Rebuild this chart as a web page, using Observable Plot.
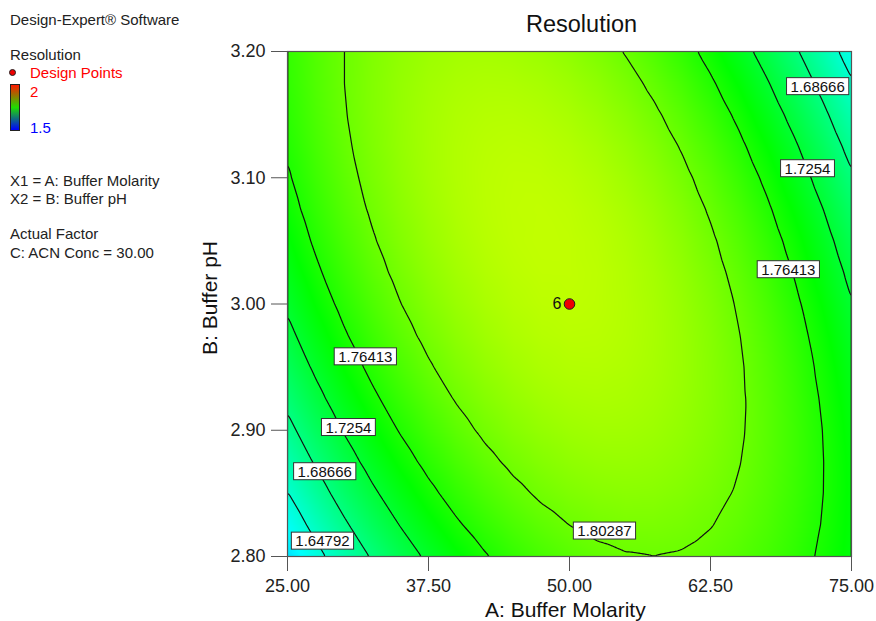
<!DOCTYPE html>
<html>
<head>
<meta charset="utf-8">
<script src="https://cdn.jsdelivr.net/npm/d3@7"></script>
<script src="https://cdn.jsdelivr.net/npm/@observablehq/plot@0.6"></script>
<style>
  body { margin: 0; background: #fff; font-family: "Liberation Sans", Arial, sans-serif; }
  #wrap { position: relative; width: 876px; height: 621px; overflow: hidden; }
  #wrap svg { position: absolute; left: 0; top: 0; }
  .t { position: absolute; white-space: nowrap; font-size: 15px; line-height: 1; color: #222; }
</style>
</head>
<body>
<div id="wrap"></div>
<script>
// ---- data ----
// A: Buffer Molarity (columns)
const molarity = [25, 27.5, 30, 32.5, 35, 37.5, 40, 42.5, 45, 47.5, 50, 52.5, 55, 57.5, 60, 62.5, 65, 67.5, 70, 72.5, 75];
// B: Buffer pH (rows, top to bottom)
const bufferPH = [3.200, 3.175, 3.150, 3.125, 3.100, 3.075, 3.050, 3.025, 3.000, 2.975, 2.950, 2.925, 2.900, 2.875, 2.850, 2.825, 2.800];
// Resolution estimated at each grid node
const resolution = [
  [1.7753,1.7901,1.8027,1.8129,1.8208,1.8265,1.8298,1.8308,1.8295,1.8260,1.8201,1.8119,1.8015,1.7887,1.7736,1.7563,1.7366,1.7146,1.6903,1.6638,1.6349],
  [1.7736,1.7893,1.8027,1.8137,1.8225,1.8290,1.8332,1.8351,1.8347,1.8320,1.8270,1.8197,1.8101,1.7981,1.7839,1.7674,1.7486,1.7275,1.7041,1.6784,1.6504],
  [1.7707,1.7872,1.8015,1.8134,1.8231,1.8304,1.8355,1.8382,1.8387,1.8368,1.8327,1.8262,1.8175,1.8064,1.7931,1.7774,1.7595,1.7392,1.7167,1.6918,1.6647],
  [1.7667,1.7841,1.7992,1.8120,1.8225,1.8307,1.8366,1.8402,1.8416,1.8406,1.8373,1.8317,1.8238,1.8136,1.8011,1.7863,1.7692,1.7498,1.7282,1.7042,1.6779],
  [1.7615,1.7798,1.7957,1.8094,1.8208,1.8299,1.8366,1.8411,1.8433,1.8431,1.8407,1.8360,1.8289,1.8196,1.8080,1.7941,1.7778,1.7593,1.7385,1.7153,1.6899],
  [1.7552,1.7743,1.7912,1.8057,1.8179,1.8278,1.8355,1.8408,1.8438,1.8446,1.8430,1.8391,1.8330,1.8245,1.8137,1.8006,1.7853,1.7676,1.7476,1.7254,1.7008],
  [1.7477,1.7677,1.7854,1.8008,1.8139,1.8247,1.8332,1.8394,1.8433,1.8449,1.8441,1.8411,1.8358,1.8282,1.8183,1.8061,1.7916,1.7748,1.7557,1.7343,1.7105],
  [1.7391,1.7600,1.7785,1.7948,1.8087,1.8204,1.8297,1.8368,1.8415,1.8440,1.8441,1.8420,1.8375,1.8308,1.8217,1.8104,1.7967,1.7808,1.7625,1.7420,1.7191],
  [1.7294,1.7511,1.7705,1.7876,1.8024,1.8150,1.8252,1.8331,1.8387,1.8420,1.8430,1.8417,1.8381,1.8322,1.8240,1.8136,1.8008,1.7857,1.7683,1.7486,1.7266],
  [1.7185,1.7411,1.7614,1.7793,1.7950,1.8084,1.8194,1.8282,1.8347,1.8389,1.8407,1.8403,1.8376,1.8325,1.8252,1.8156,1.8036,1.7894,1.7729,1.7541,1.7329],
  [1.7065,1.7299,1.7511,1.7699,1.7864,1.8006,1.8126,1.8222,1.8295,1.8346,1.8373,1.8377,1.8359,1.8317,1.8252,1.8164,1.8054,1.7920,1.7763,1.7584,1.7381],
  [1.6933,1.7176,1.7396,1.7593,1.7767,1.7918,1.8046,1.8151,1.8232,1.8291,1.8327,1.8340,1.8330,1.8297,1.8241,1.8162,1.8060,1.7935,1.7786,1.7615,1.7421],
  [1.6790,1.7042,1.7270,1.7476,1.7658,1.7818,1.7954,1.8068,1.8158,1.8226,1.8270,1.8292,1.8290,1.8266,1.8218,1.8148,1.8054,1.7938,1.7798,1.7636,1.7450],
  [1.6635,1.6896,1.7133,1.7347,1.7538,1.7706,1.7851,1.7973,1.8072,1.8148,1.8201,1.8232,1.8239,1.8223,1.8184,1.8122,1.8037,1.7929,1.7798,1.7644,1.7467],
  [1.6469,1.6738,1.6984,1.7207,1.7406,1.7583,1.7737,1.7867,1.7975,1.8060,1.8121,1.8160,1.8176,1.8169,1.8138,1.8085,1.8009,1.7909,1.7787,1.7642,1.7473],
  [1.6292,1.6569,1.6824,1.7055,1.7263,1.7448,1.7611,1.7750,1.7866,1.7960,1.8030,1.8077,1.8102,1.8103,1.8081,1.8036,1.7969,1.7878,1.7764,1.7628,1.7468],
  [1.6103,1.6389,1.6652,1.6892,1.7109,1.7303,1.7473,1.7621,1.7746,1.7848,1.7927,1.7983,1.8016,1.8026,1.8013,1.7977,1.7917,1.7835,1.7730,1.7602,1.7451]
];
const contourLevels = [1.64792, 1.68666, 1.7254, 1.76413, 1.80287];
const contourLabelText = ["1.76413", "1.7254", "1.68666", "1.64792", "1.80287", "1.68666", "1.7254", "1.76413"];
const contourLabelA    = [31.9, 30.4, 28.3, 28.1, 53.1, 72.0, 71.1, 69.4];
const contourLabelPH   = [2.958, 2.902, 2.867, 2.812, 2.820, 3.172, 3.107, 3.027];
const designA = [50];
const designPH = [3.00];
const designCount = ["6"];
const xTicks = [25, 37.5, 50, 62.5, 75];
const yTicks = [2.80, 2.90, 3.00, 3.10, 3.20];
const colorStops = [1.5, 1.625, 1.75, 1.875, 2];
const colorRange = ["#0000ff", "#00ffff", "#00ff00", "#ffff00", "#ff0000"];

// ---- tables built from the arrays ----
const grid = [];
bufferPH.forEach((p, i) => molarity.forEach((m, j) => grid.push({A: m, pH: p, R: resolution[i][j]})));
const labels = contourLabelText.map((t, i) => ({t, A: contourLabelA[i], pH: contourLabelPH[i]}));
const design = designA.map((a, i) => ({A: a, pH: designPH[i], n: designCount[i]}));

const font = '"Liberation Sans", Arial, sans-serif';
const bounds = {x1: 25, x2: 75, y1: 2.8, y2: 3.2};

const chart = Plot.plot({
  width: 876, height: 621,
  marginLeft: 287, marginRight: 25, marginTop: 51, marginBottom: 65,
  style: {fontFamily: font, color: "#222", background: "transparent", overflow: "visible"},
  x: {domain: [25, 75]},
  y: {domain: [2.8, 3.2]},
  color: {type: "linear", domain: colorStops, range: colorRange, interpolate: "rgb"},
  marks: [
    Plot.raster(grid, {x: "A", y: "pH", fill: "R", interpolate: "barycentric", pixelSize: 1, ...bounds}),
    Plot.contour(grid, {x: "A", y: "pH", value: "R", thresholds: contourLevels, interpolate: "barycentric",
      pixelSize: 1, blur: 1, ...bounds, fill: "none", stroke: "#111", strokeWidth: 1.2, clip: true}),
    Plot.frame({stroke: "#555", strokeWidth: 1.2}),
    Plot.axisX({ticks: xTicks, tickFormat: d => d.toFixed(2), tickSize: 15, tickPadding: 8,
      fontSize: 18, stroke: "#555", label: null}),
    Plot.axisY({ticks: yTicks, tickFormat: d => d.toFixed(2), tickSize: 16, tickPadding: 6,
      fontSize: 18, stroke: "#555", label: null}),
    Plot.text(labels, {x: "A", y: "pH", text: "t", fontSize: 15, fill: "#111"}),
    Plot.dot(design, {x: "A", y: "pH", r: 5.3, fill: "#ee0000", stroke: "#222", strokeWidth: 1}),
    Plot.text(design, {x: "A", y: "pH", text: "n", dx: -8, textAnchor: "end", fontSize: 16, fill: "#111"})
  ]
});

const wrap = document.getElementById("wrap");
wrap.appendChild(chart);

// white boxes behind contour labels
const textGroups = chart.querySelectorAll('g[aria-label="text"]');
if (textGroups.length) {
  textGroups[0].querySelectorAll("text").forEach(t => {
    const b = t.getBBox();
    const r = document.createElementNS("http://www.w3.org/2000/svg", "rect");
    r.setAttribute("x", b.x - 4);
    r.setAttribute("y", b.y);
    r.setAttribute("width", b.width + 8);
    r.setAttribute("height", b.height);
    r.setAttribute("fill", "#fff");
    r.setAttribute("stroke", "#333");
    r.setAttribute("stroke-width", "1");
    const tr = t.getAttribute("transform");
    if (tr) r.setAttribute("transform", tr);
    t.parentNode.insertBefore(r, t);
  });
}

// ---- text around the chart ----
function addText(txt, left, top, opts = {}) {
  const d = document.createElement("div");
  d.className = "t";
  d.textContent = txt;
  d.style.left = left + "px";
  d.style.top = top + "px";
  Object.assign(d.style, opts);
  wrap.appendChild(d);
  return d;
}
addText("Resolution", 581.5, 13.4, {fontSize: "23.5px", transform: "translateX(-50%)", color: "#111"});
addText("A: Buffer Molarity", 485, 598.5, {fontSize: "21px", color: "#111"});
addText("B: Buffer pH", 208.7, 298, {fontSize: "21px", color: "#111", transform: "translate(-50%,-50%) rotate(-90deg)"});

addText("Design-Expert® Software", 10, 12.3);
addText("Resolution", 10, 47.3);
addText("Design Points", 30, 65.3, {color: "#ff0000"});
addText("2", 30, 84.3, {color: "#ff0000"});
addText("1.5", 30, 120.3, {color: "#0000ff"});
addText("X1 = A: Buffer Molarity", 10, 173.3);
addText("X2 = B: Buffer pH", 10, 190.8);
addText("Actual Factor", 10, 226.3);
addText("C: ACN Conc = 30.00", 10, 245.3);

const dot = document.createElement("div");
Object.assign(dot.style, {position: "absolute", left: "9px", top: "69px", width: "7px", height: "7px",
  borderRadius: "50%", background: "#ee0000", border: "1px solid #222", boxSizing: "border-box"});
wrap.appendChild(dot);
const bar = document.createElement("div");
Object.assign(bar.style, {position: "absolute", left: "10px", top: "84px", width: "10px", height: "47px",
  background: "linear-gradient(to bottom, #ff1a00, #1fdc00 50%, #0000ff)", border: "1px solid #222", boxSizing: "border-box"});
wrap.appendChild(bar);
</script>
</body>
</html>
